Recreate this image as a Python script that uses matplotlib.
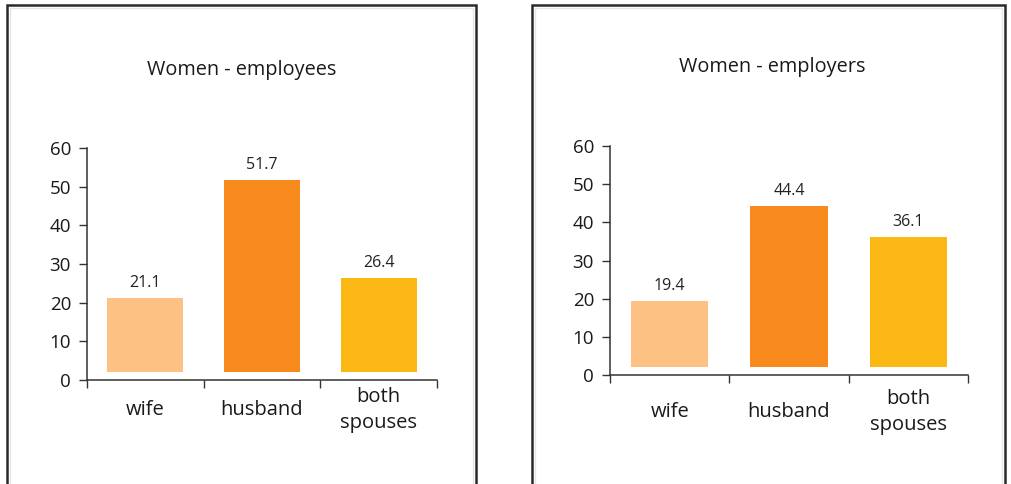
import matplotlib
matplotlib.use("Agg")
import matplotlib.pyplot as plt
from matplotlib.patches import Rectangle
import numpy as np

plt.rcParams['font.family'] = ['Open Sans', 'DejaVu Sans']

categories = ["wife", "husband", "both\nspouses"]
employees = [21.1, 51.7, 26.4]
employers = [19.4, 44.4, 36.1]
titles = ["Women - employees", "Women - employers"]
yticks = [0, 10, 20, 30, 40, 50, 60]

colors = ["#FDC283", "#F98A1E", "#FBB713"]
BAR_BASE = 2.0
W, H = 1012, 484

fig = plt.figure(figsize=(W / 100, H / 100), dpi=100)
fig.patch.set_facecolor("white")

def fx(px):
    return px / W

def fy(py):
    return 1 - py / H

# panel frames
for (x0, x1) in [(7, 476), (532, 1005)]:
    fig.add_artist(Rectangle((fx(x0), fy(490)), fx(x1 - x0), (490 - 5) / H,
                             transform=fig.transFigure, fill=False,
                             edgecolor="#2a2a2a", linewidth=1.8))
    fig.add_artist(Rectangle((fx(x0 + 3), fy(490)), fx(x1 - x0 - 6), (490 - 8) / H,
                             transform=fig.transFigure, fill=False,
                             edgecolor="#e6e6e6", linewidth=1.0))

axes_px = [  # x0, x1, y(0), y(60), category label offset
    (87, 437, 380, 148, 30),
    (610, 968, 375, 146, 37),
]
title_px = [(242, 70), (772, 67)]
data = [employees, employers]

for k in range(2):
    x0, x1, yb, yt, loff = axes_px[k]
    ax = fig.add_axes([fx(x0), fy(yb), fx(x1 - x0), (yb - yt) / H])
    vals = np.array(data[k])
    xs = np.arange(len(categories)) + 0.5
    ax.bar(xs, vals - BAR_BASE, bottom=BAR_BASE, width=0.65, color=colors, linewidth=0)
    for x, v in zip(xs, vals):
        ax.annotate(f"{v:.1f}", xy=(x, v), xytext=(0, 15), textcoords="offset pixels",
                    ha="center", va="center", fontsize=11.5, color="#222222")
    for x, c in zip(xs, categories):
        ax.annotate(c, xy=(x, 0), xycoords=("data", "axes fraction"),
                    xytext=(0, -loff), textcoords="offset pixels",
                    ha="center", va="center", fontsize=14.5, color="#1a1a1a",
                    linespacing=1.45)
    ax.set_xlim(0, len(categories))
    ax.set_ylim(0, 60)
    ax.set_xticks(np.arange(len(categories) + 1))
    ax.set_xticklabels([])
    ax.set_yticks(yticks)
    ax.set_yticklabels([str(t) for t in yticks])
    ax.tick_params(axis="y", length=5.5, width=1.0, color="#333333", labelsize=13.5,
                   labelcolor="#1a1a1a", pad=6)
    ax.tick_params(axis="x", length=5.5, width=1.0, color="#333333")
    for s in ["top", "right"]:
        ax.spines[s].set_visible(False)
    for s in ["left", "bottom"]:
        ax.spines[s].set_color("#333333")
        ax.spines[s].set_linewidth(1.1)
    ax.set_facecolor("none")
    tx, ty = title_px[k]
    fig.text(fx(tx), fy(ty), titles[k], ha="center", va="center",
             fontsize=14.3, color="#1a1a1a")

fig.savefig("out.png", dpi=100, facecolor="white")
